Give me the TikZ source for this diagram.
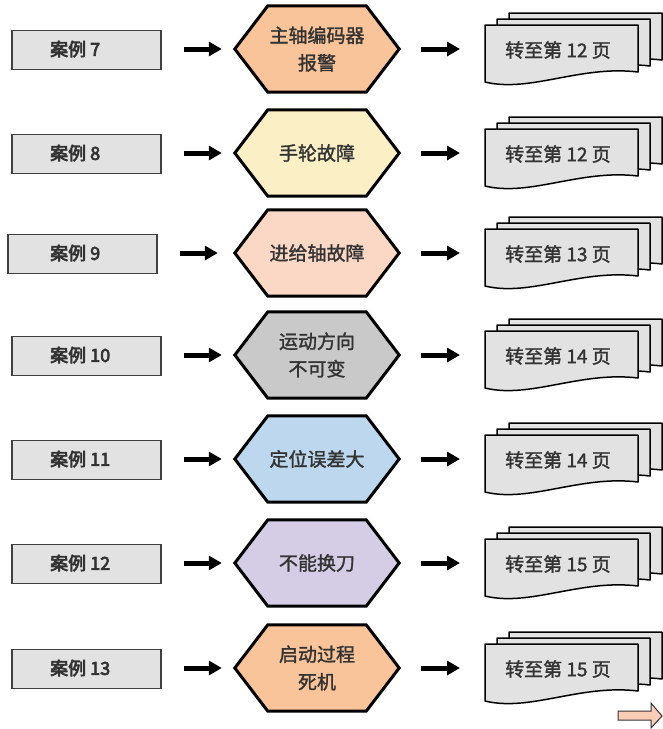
\documentclass[tikz,border=0pt]{standalone}
\usepackage{fontspec}
\setmainfont{Noto Sans CJK SC}
\newcommand\strk[2]{\special{pdf:literal direct 2 Tr #1 w}#2\special{pdf:literal direct 0 Tr}}
\usetikzlibrary{arrows.meta,backgrounds,calc}
\definecolor{hexA}{HTML}{F9C499}
\definecolor{hexB}{HTML}{FBEFC6}
\definecolor{hexC}{HTML}{FBD8C6}
\definecolor{hexD}{HTML}{C9C9C9}
\definecolor{hexE}{HTML}{BDD7EE}
\definecolor{hexF}{HTML}{D5CDE5}
\definecolor{boxfill}{HTML}{E2E2E2}
\definecolor{boxline}{HTML}{404040}
\definecolor{pagefill}{HTML}{E2E2E2}
\definecolor{txt}{HTML}{333333}
\definecolor{arrowfill}{HTML}{F9CDB6}
\begin{document}
\begin{tikzpicture}[x=1pt,y=-1pt,
  casebox/.style={draw=boxline, line width=1.5pt, fill=boxfill, minimum width=149pt, minimum height=39pt, inner sep=0pt},
  caselabel/.style={anchor=west, inner sep=0pt, font=\fontsize{18}{22}\selectfont, text=txt},
  hexnode/.style={minimum width=164pt, minimum height=86pt, inner sep=0pt, align=center, font=\fontsize{19}{27.5}\selectfont, text=txt},
  hexline/.style={draw=black, line width=3pt, line join=miter},
  pagetext/.style={font=\fontsize{19}{22}\selectfont, text=txt, inner sep=0pt},
  flow/.style={draw=black, line width=5pt, -{Triangle[length=13pt,width=14pt]}},
  docpage/.pic={\draw[black, line width=1.5pt, fill=pagefill, line join=round] (0,0) -- (153,0) -- (153,47) .. controls (95,40) and (45,68) .. (0,57) -- cycle;}
]
\useasboundingbox (0,0) rectangle (662,729);
\foreach \c/\n/\lab/\hx/\col/\pg/\dx/\se in {
  49/1/7/{\strk{0.3}{主轴编码器}\\\strk{0.3}{报警}}/hexA/12/0/13,
  153/2/8/{\strk{0.3}{手轮故障}}/hexB/12/0/13,
  253/3/9/{\strk{0.3}{进给轴故障}}/hexC/13/-4/17,
  355/4/10/{\strk{0.3}{运动方向}\\\strk{0.3}{不可变}}/hexD/14/0/13,
  459/5/11/{\strk{0.3}{定位误差大}}/hexE/14/0/13,
  563/6/12/{\strk{0.3}{不能换刀}}/hexF/15/0/13,
  668/7/13/{\strk{0.3}{启动过程}\\\strk{0.3}{死机}}/hexA/15/0/13}{
  \node[casebox] (b\n) at (86.5+\dx, \c+1) {};
  \node[caselabel] (l\n) at (50, \c) {\strk{0.7}{案例 \lab}};
  \node[hexnode] (h\n) at (317, \c) {\hx};
  \begin{pgfonlayer}{background}
    \draw[hexline, fill=\col] (h\n.west) -- ([xshift=33pt]h\n.north west) -- ([xshift=-33pt]h\n.north east) -- (h\n.east) -- ([xshift=-33pt]h\n.south east) -- ([xshift=33pt]h\n.south west) -- cycle;
  \end{pgfonlayer}
  \pic at (509, \c-36) {docpage};
  \pic at (497, \c-30) {docpage};
  \pic at (485, \c-24) {docpage};
  \node[pagetext] (t\n) at (558, \c+1) {\strk{0.3}{转至第 \pg\ 页}};
  \coordinate (d\n) at (485, \c);
  \draw[flow, shorten <=22pt, shorten >=\se pt] (b\n.east |- h\n.west) -- (h\n.west);
  \draw[flow, shorten <=22pt, shorten >=25pt] (h\n.east) -- (d\n);
}
\draw[line width=1pt, draw=black!80, fill=arrowfill] (618,711) -- (651,711) -- (651,703) -- (662,716) -- (651,728) -- (651,720) -- (618,720) -- cycle;
\end{tikzpicture}
\end{document}
